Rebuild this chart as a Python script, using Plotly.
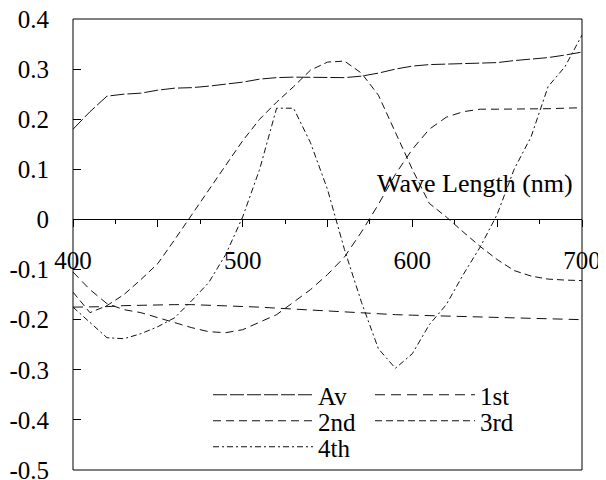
import plotly.graph_objects as go

# ---------------- data ----------------
wavelength = [400, 410, 420, 430, 440, 450, 460, 470, 480, 490, 500,
              510, 520, 530, 540, 550, 560, 570, 580, 590, 600,
              610, 620, 630, 640, 650, 660, 670, 680, 690, 700]

av = [0.18, 0.215, 0.246, 0.25, 0.252, 0.258, 0.262, 0.263, 0.266, 0.27, 0.274,
      0.28, 0.283, 0.284, 0.284, 0.283, 0.283, 0.286, 0.292, 0.3, 0.306,
      0.309, 0.31, 0.31, 0.311, 0.313, 0.317, 0.32, 0.323, 0.328, 0.334]

first = [-0.175, -0.175, -0.174, -0.172, -0.171, -0.17, -0.17, -0.17, -0.171, -0.172, -0.173,
         -0.175, -0.177, -0.179, -0.181, -0.183, -0.185, -0.187, -0.189, -0.19, -0.191,
         -0.192, -0.193, -0.194, -0.195, -0.196, -0.197, -0.198, -0.198, -0.199, -0.2]

second = [-0.105, -0.14, -0.168, -0.18, -0.186, -0.196, -0.206, -0.216, -0.224, -0.226, -0.22,
          -0.205, -0.19, -0.165, -0.14, -0.11, -0.075, -0.025, 0.03, 0.09, 0.14,
          0.18, 0.204, 0.215, 0.22, 0.22, 0.22, 0.22, 0.221, 0.222, 0.223]

third = [-0.145, -0.186, -0.172, -0.15, -0.12, -0.088, -0.04, 0.01, 0.06, 0.108, 0.157,
         0.2, 0.234, 0.265, 0.298, 0.314, 0.316, 0.292, 0.248, 0.175, 0.1,
         0.032, 0.005, -0.025, -0.054, -0.08, -0.102, -0.113, -0.119, -0.121, -0.122]

fourth = [-0.175, -0.206, -0.236, -0.238, -0.228, -0.214, -0.196, -0.162, -0.126, -0.07, 0.005,
          0.1, 0.222, 0.222, 0.153, 0.06, -0.06, -0.165, -0.258, -0.297, -0.268,
          -0.21, -0.17, -0.11, -0.055, 0.01, 0.1, 0.165, 0.265, 0.305, 0.368]

series_names = ["Av", "1st", "2nd", "3rd", "4th"]
series_values = [av, first, second, third, fourth]

y_tick_vals = [0.4, 0.3, 0.2, 0.1, 0, -0.1, -0.2, -0.3, -0.4, -0.5]
y_tick_text = ["0.4", "0.3", "0.2", "0.1", "0", "-0.1", "-0.2", "-0.3", "-0.4", "-0.5"]
x_tick_vals = [400, 450, 500, 550, 600, 650, 700]
x_tick_text = ["400", "", "500", "", "600", "", "700"]
x_title = "Wave Length (nm)"

# ---------------- styling ----------------
FONT = "Liberation Serif"
dashes = ["14px,3px", "10px,6px", "8px,5px", "7px,4px", "6px,3px,2px,3px"]
legend_ids = ["legend", "legend", "legend2", "legend2", "legend3"]

fig = go.Figure()
for name, vals, dash, lg in zip(series_names, series_values, dashes, legend_ids):
    fig.add_trace(go.Scatter(
        x=wavelength, y=vals, mode="lines", name=name, legend=lg,
        line=dict(color="#111111", width=1, dash=dash),
    ))

y_min, y_max = -0.5, 0.4
zero_pos = (0 - y_min) / (y_max - y_min)

# plot area in page pixels (the page body adds an 8px offset)
PLOT_TOP, PLOT_H, PLOT_L, PLOT_W = 19, 451, 73, 509

legend_common = dict(
    orientation="h", xanchor="left", yanchor="top",
    x=(208 - PLOT_L) / PLOT_W, itemwidth=100, entrywidth=47,
    bgcolor="rgba(0,0,0,0)", borderwidth=0,
    font=dict(family=FONT, size=25, color="black"),
)

fig.update_layout(
    width=598, height=472,
    margin=dict(l=65, r=24, t=11, b=10, autoexpand=False),
    paper_bgcolor="white", plot_bgcolor="white",
    font=dict(family=FONT, size=25, color="black"),
    showlegend=True,
    legend=dict(legend_common, y=1 - (372 - PLOT_TOP) / PLOT_H),
    legend2=dict(legend_common, y=1 - (398 - PLOT_TOP) / PLOT_H),
    legend3=dict(legend_common, y=1 - (424 - PLOT_TOP) / PLOT_H),
    xaxis=dict(
        range=[400, 700], anchor="free", position=zero_pos, automargin=False,
        showline=True, linecolor="black", linewidth=1,
        ticks="outside", ticklen=7, tickcolor="black", tickwidth=1,
        tickvals=x_tick_vals, ticktext=x_tick_text,
        minor=dict(ticks="outside", ticklen=4, dtick=25, tick0=400, tickcolor="black"),
        showgrid=False, zeroline=False,
        tickfont=dict(family=FONT, size=25, color="black"),
        ticklabelstandoff=12, ticklabeloverflow="allow",
    ),
    xaxis2=dict(
        range=[400, 700], anchor="free", position=zero_pos, overlaying="x",
        automargin=False,
        showline=False, ticks="inside", ticklen=7, tickcolor="black", tickwidth=1,
        tickvals=x_tick_vals, showticklabels=False,
        minor=dict(ticks="inside", ticklen=4, dtick=25, tick0=400, tickcolor="black"),
        showgrid=False, zeroline=False,
    ),
    yaxis=dict(
        range=[y_min, y_max], automargin=False,
        tickvals=y_tick_vals, ticktext=y_tick_text,
        ticks="inside", ticklen=8, tickcolor="black",
        showline=False, showgrid=False, zeroline=False,
        tickfont=dict(family=FONT, size=25, color="black"),
        ticklabelstandoff=23, ticklabeloverflow="allow",
    ),
    shapes=[dict(type="rect", xref="paper", yref="paper", x0=0, x1=1, y0=0, y1=1,
                 line=dict(color="black", width=1), layer="above")],
    annotations=[dict(text=x_title, xref="paper", yref="paper",
                      x=(475 - PLOT_L) / PLOT_W, y=1 - (183 - PLOT_TOP) / PLOT_H,
                      xanchor="center", yanchor="middle", showarrow=False,
                      font=dict(family=FONT, size=26, color="black"))],
)

fig.write_html("out.html")
